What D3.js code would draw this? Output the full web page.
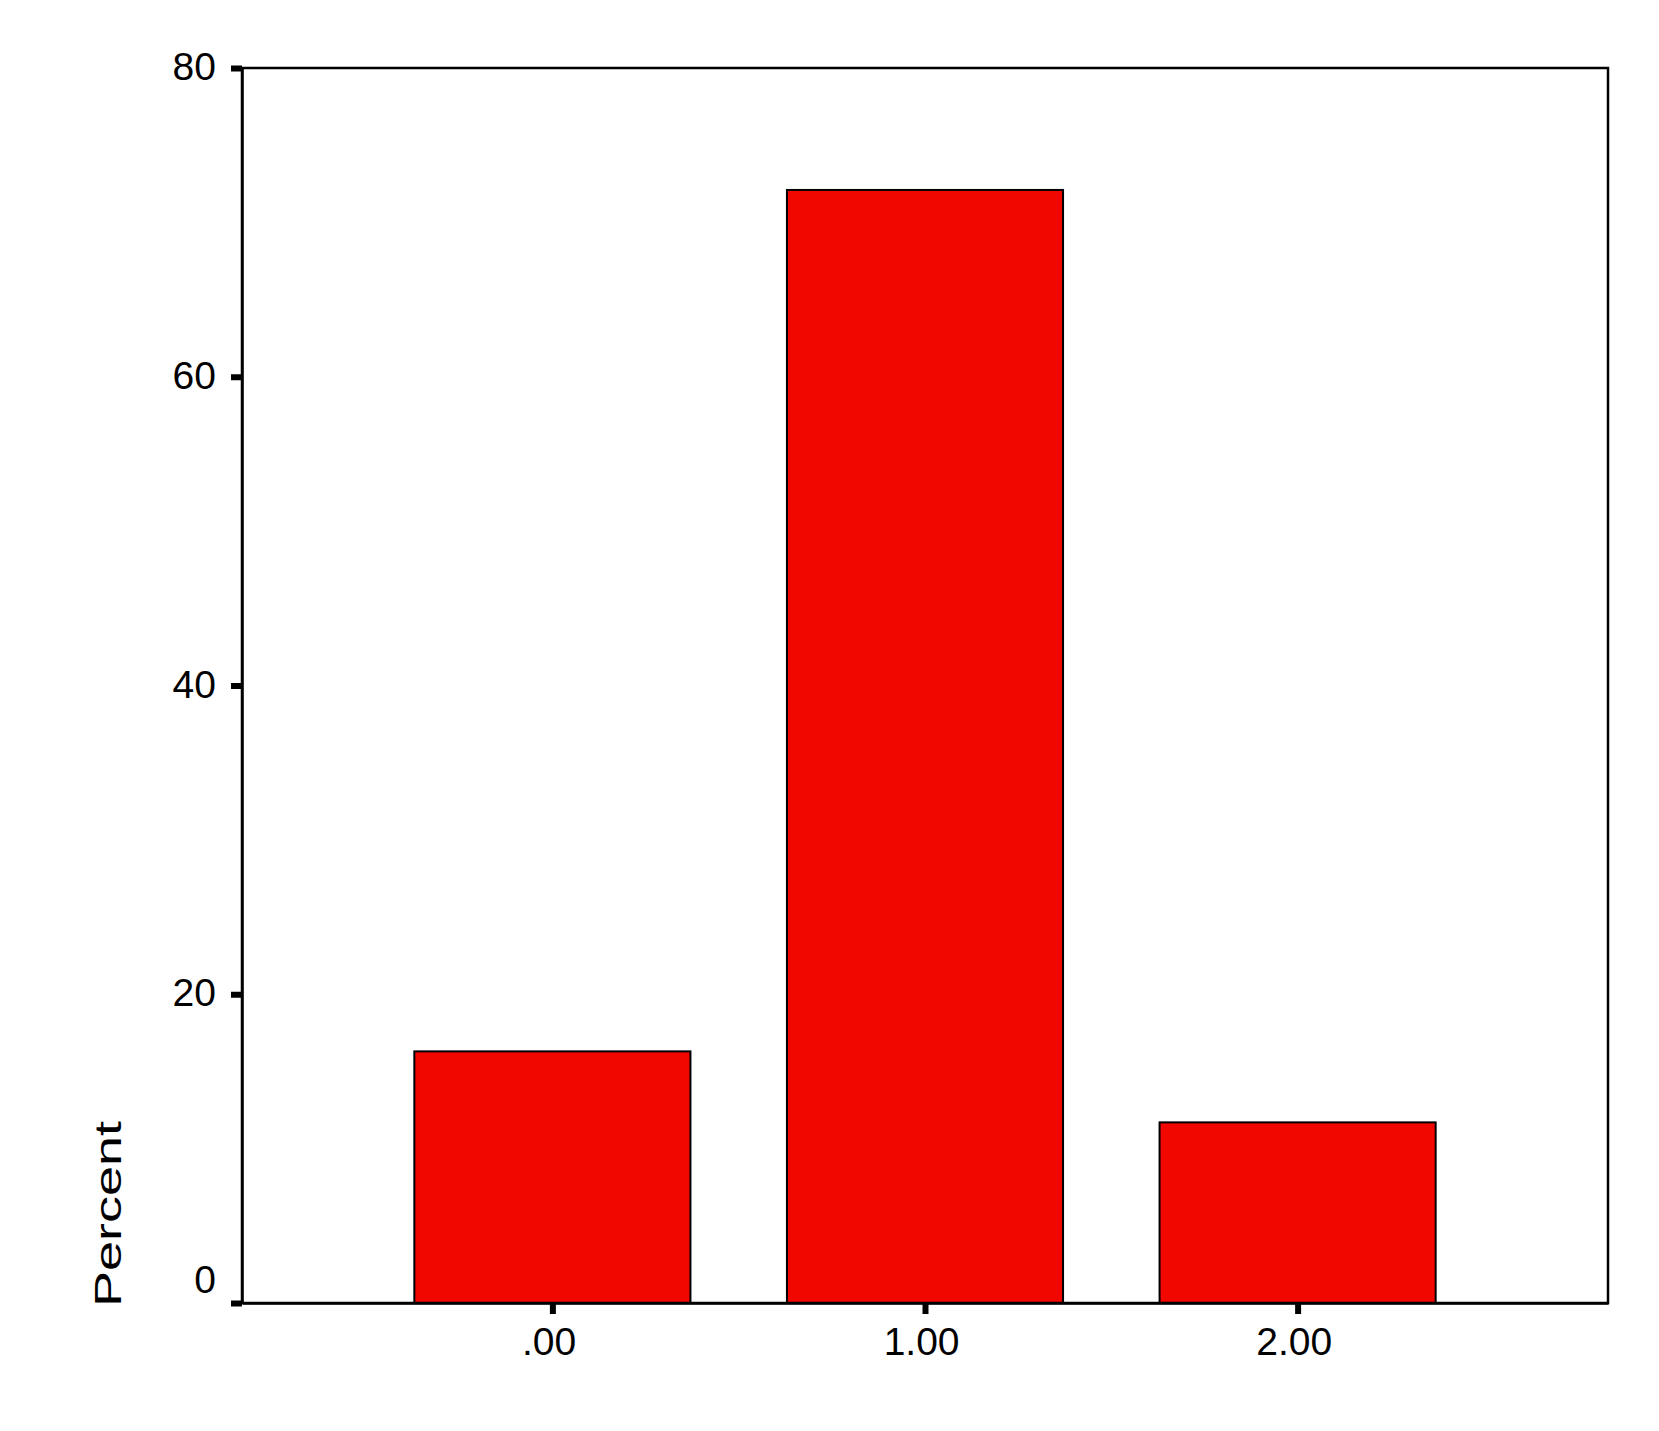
<!DOCTYPE html>
<html>
<head>
<meta charset="utf-8">
<script src="https://cdn.jsdelivr.net/npm/d3@7"></script>
<style>
  html, body { margin: 0; padding: 0; background: #fff; }
  svg { display: block; }
  text { font-family: "Liberation Sans", Arial, sans-serif; fill: #000; }
</style>
</head>
<body>
<svg id="chart" width="1659" height="1431"></svg>
<script>
const categories = [".00", "1.00", "2.00"];
const percents = [16.3, 72.1, 11.7];
const yTicks = [0, 20, 40, 60, 80];
const yLabel = "Percent";

const W = 1659, H = 1431;
const m = { left: 242, right: 51, top: 68, bottom: 128 };
const svg = d3.select("#chart");

const x = d3.scalePoint().domain(categories).range([m.left, W - m.right]).padding(0.833);
const y = d3.scaleLinear().domain([0, 80]).range([H - m.bottom, m.top]);
const barW = x.step() * 0.741;

// bars
svg.append("g").selectAll("rect").data(categories).join("rect")
  .attr("x", d => x(d) - barW / 2)
  .attr("y", (d, i) => y(percents[i]))
  .attr("width", barW)
  .attr("height", (d, i) => y(0) - y(percents[i]))
  .attr("fill", "#f20600")
  .attr("stroke", "#000").attr("stroke-width", 2);

// frame
svg.append("rect")
  .attr("x", m.left).attr("y", m.top)
  .attr("width", W - m.right - m.left).attr("height", H - m.bottom - m.top)
  .attr("fill", "none").attr("stroke", "#000").attr("stroke-width", 2.5);

// y axis
const yAxis = d3.axisLeft(y).tickValues(yTicks).tickSize(11).tickSizeOuter(0).tickPadding(15);
const gy = svg.append("g").attr("transform", `translate(${m.left},0)`).call(yAxis);
gy.select(".domain").attr("stroke", "#000").attr("stroke-width", 2.5);
gy.selectAll(".tick line").attr("stroke", "#000").attr("stroke-width", 6);
gy.selectAll(".tick text")
  .attr("font-size", 39)
  .attr("font-family", "Liberation Sans, Arial, sans-serif")
  .attr("fill", "#000")
  .attr("dy", d => d === 0 ? "-0.26em" : "0.3em");

// x axis
const xAxis = d3.axisBottom(x).tickSize(11).tickSizeOuter(0).tickPadding(13);
const gx = svg.append("g").attr("transform", `translate(0,${H - m.bottom})`).call(xAxis);
gx.select(".domain").attr("stroke", "#000").attr("stroke-width", 2.5);
gx.selectAll(".tick line").attr("stroke", "#000").attr("stroke-width", 6);
gx.selectAll(".tick text")
  .attr("font-size", 39)
  .attr("font-family", "Liberation Sans, Arial, sans-serif")
  .attr("fill", "#000")
  .attr("dx", "-0.1em")
  .attr("dy", "0.71em");

// y label
svg.append("text")
  .attr("transform", `translate(121,${H - m.bottom + 4}) rotate(-90)`)
  .attr("text-anchor", "start")
  .attr("font-size", 37)
  .attr("textLength", 186)
  .attr("lengthAdjust", "spacingAndGlyphs")
  .text(yLabel);
</script>
</body>
</html>
